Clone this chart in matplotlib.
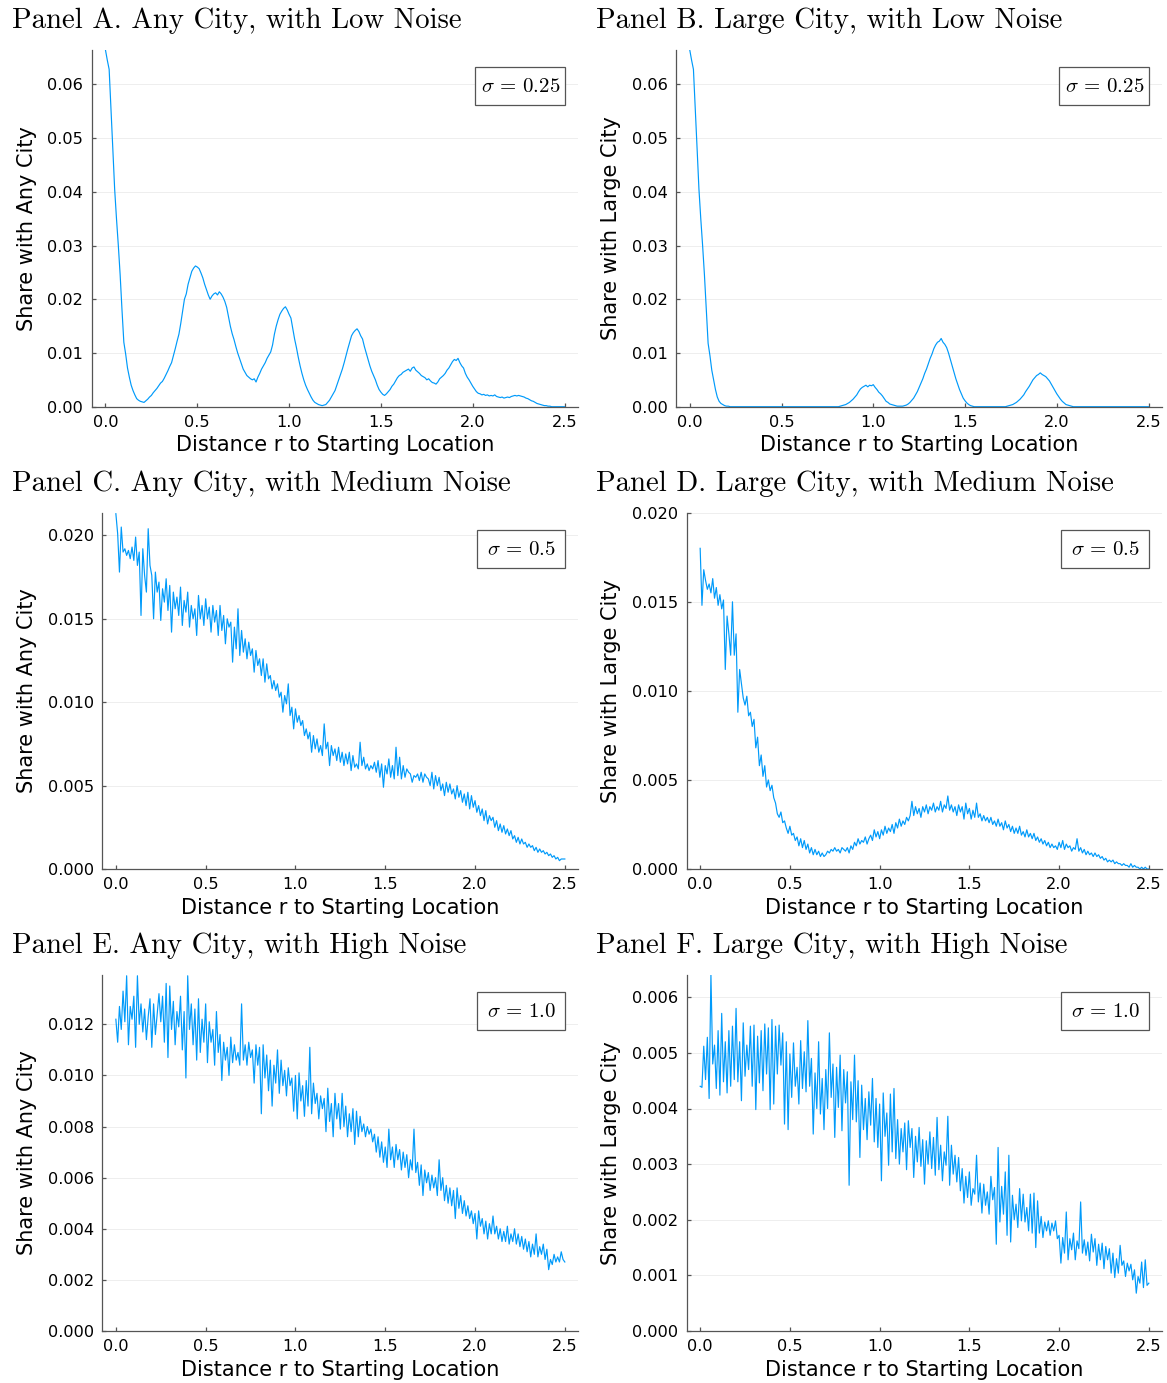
import matplotlib
matplotlib.use("Agg")
import matplotlib.pyplot as plt
import numpy as np
from matplotlib.patches import Rectangle

plt.rcParams['mathtext.fontset'] = 'cm'
plt.rcParams['font.family'] = 'DejaVu Sans'

# distance grid, r = 0.00 .. 2.50
r = np.linspace(0, 2.5, 251)

# Panel A: any city, sigma = 0.25   (units of 1e-4)
share_a = [
    664, 645, 628, 552, 480, 405, 350, 300, 245, 180,
    120, 98, 72, 55, 40, 30, 22, 15, 12, 10,
    9, 8, 11, 14, 18, 21, 26, 30, 34, 39,
    44, 47, 53, 60, 67, 75, 82, 95, 108, 122,
    135, 155, 178, 200, 210, 228, 240, 252, 258, 262,
    260, 257, 249, 240, 228, 218, 208, 200, 206, 210,
    212, 208, 214, 210, 204, 196, 185, 168, 150, 136,
    125, 112, 100, 90, 80, 70, 64, 58, 55, 52,
    50, 52, 46, 55, 62, 70, 76, 82, 90, 96,
    102, 115, 135, 150, 162, 172, 178, 183, 186, 180,
    172, 165, 145, 126, 110, 92, 76, 62, 50, 40,
    32, 25, 18, 12, 8, 6, 4, 3, 2, 3,
    4, 8, 12, 18, 24, 30, 40, 50, 60, 70,
    82, 95, 108, 120, 132, 138, 142, 145, 140, 132,
    126, 112, 100, 88, 76, 66, 58, 50, 40, 32,
    27, 23, 21, 24, 28, 32, 38, 42, 48, 54,
    58, 60, 64, 66, 68, 70, 66, 72, 74, 68,
    65, 62, 58, 56, 54, 50, 52, 48, 45, 44,
    42, 46, 52, 55, 58, 62, 68, 72, 78, 84,
    88, 86, 90, 82, 76, 72, 62, 55, 50, 44,
    38, 33, 28, 25, 24, 22, 23, 21, 22, 20,
    21, 20, 22, 19, 18, 17, 18, 16, 17, 18,
    17, 19, 20, 21, 20, 21, 20, 19, 18, 16,
    15, 13, 11, 10, 8, 6, 5, 4, 3, 2,
    2, 1, 1, 0, 0, 0, 0, 0, 0, 0,
    0]

# Panel B: large city, sigma = 0.25   (units of 1e-4)
share_b = [
    664, 645, 628, 552, 480, 405, 350, 300, 245, 180,
    118, 95, 68, 50, 32, 18, 10, 6, 4, 2,
    1, 1, 0, 0, 0, 0, 0, 0, 0, 0,
    0, 0, 0, 0, 0, 0, 0, 0, 0, 0,
    0, 0, 0, 0, 0, 0, 0, 0, 0, 0,
    0, 0, 0, 0, 0, 0, 0, 0, 0, 0,
    0, 0, 0, 0, 0, 0, 0, 0, 0, 0,
    0, 0, 0, 0, 0, 0, 0, 0, 0, 0,
    0, 0, 1, 2, 3, 4, 6, 8, 11, 14,
    18, 22, 28, 33, 36, 38, 40, 37, 40, 39,
    41, 36, 32, 27, 24, 20, 15, 10, 8, 5,
    4, 3, 2, 1, 1, 1, 1, 2, 3, 5,
    8, 12, 16, 22, 28, 36, 44, 52, 62, 70,
    80, 90, 98, 108, 115, 120, 122, 127, 120, 116,
    110, 100, 88, 76, 64, 52, 42, 32, 24, 16,
    11, 7, 4, 2, 1, 0, 0, 0, 0, 0,
    0, 0, 0, 0, 0, 0, 0, 0, 0, 0,
    0, 0, 0, 1, 2, 3, 4, 6, 8, 11,
    14, 18, 22, 28, 33, 38, 44, 50, 54, 58,
    60, 63, 60, 58, 56, 52, 48, 42, 36, 30,
    24, 19, 14, 10, 7, 4, 3, 2, 1, 0,
    0, 0, 0, 0, 0, 0, 0, 0, 0, 0,
    0, 0, 0, 0, 0, 0, 0, 0, 0, 0,
    0, 0, 0, 0, 0, 0, 0, 0, 0, 0,
    0, 0, 0, 0, 0, 0, 0, 0, 0, 0,
    0]

# Panel C: any city, sigma = 0.5   (units of 1e-4)
share_c = [
    213, 201, 178, 205, 190, 192, 188, 191, 186, 193,
    185, 199, 182, 190, 152, 192, 176, 166, 204, 182,
    176, 150, 178, 166, 172, 149, 168, 160, 174, 155,
    170, 142, 166, 156, 163, 152, 169, 146, 161, 154,
    166, 145, 158, 150, 156, 140, 164, 150, 158, 146,
    162, 150, 157, 142, 158, 148, 155, 140, 158, 143,
    152, 135, 150, 145, 148, 124, 145, 132, 156, 128,
    143, 130, 138, 126, 136, 128, 132, 118, 131, 122,
    126, 116, 126, 112, 123, 114, 116, 108, 113, 107,
    111, 103, 106, 94, 104, 99, 111, 92, 97, 84,
    96, 88, 92, 86, 89, 80, 84, 78, 82, 70,
    80, 72, 78, 70, 74, 68, 87, 72, 76, 62,
    74, 68, 72, 65, 73, 64, 70, 62, 69, 63,
    70, 59, 68, 61, 63, 60, 76, 62, 67, 60,
    63, 59, 62, 60, 64, 58, 65, 55, 63, 49,
    62, 57, 66, 55, 62, 54, 73, 56, 67, 54,
    62, 55, 60, 58, 57, 52, 56, 55, 57, 53,
    58, 52, 57, 55, 54, 50, 58, 48, 56, 50,
    55, 47, 51, 44, 52, 46, 51, 45, 48, 42,
    50, 43, 47, 40, 45, 38, 46, 36, 44, 37,
    41, 34, 38, 32, 36, 29, 35, 27, 32, 29,
    31, 25, 29, 23, 27, 22, 26, 21, 24, 20,
    23, 18, 20, 16, 19, 15, 18, 15, 16, 13,
    15, 13, 14, 11, 13, 10, 12, 10, 11, 9,
    10, 8, 9, 7, 8, 6, 7, 5, 6, 6,
    6]

# Panel D: large city, sigma = 0.5   (units of 1e-4)
share_d = [
    180, 148, 168, 162, 157, 160, 155, 163, 152, 158,
    148, 154, 146, 151, 112, 142, 132, 120, 150, 120,
    132, 88, 112, 104, 96, 92, 97, 86, 88, 80,
    84, 68, 74, 58, 64, 52, 58, 46, 50, 44,
    47, 40, 37, 31, 29, 32, 26, 27, 23, 20,
    24, 19, 20, 16, 18, 13, 17, 12, 16, 11,
    14, 9, 12, 8, 11, 8, 10, 7, 9, 7,
    8, 10, 9, 11, 10, 12, 10, 11, 9, 12,
    11, 10, 12, 9, 13, 11, 15, 13, 17, 14,
    16, 15, 18, 14, 17, 19, 16, 22, 18, 21,
    17, 22, 19, 24, 20, 23, 21, 25, 20, 26,
    23, 28, 24, 27, 25, 29, 27, 30, 38, 30,
    35, 31, 34, 29, 35, 32, 36, 31, 35, 33,
    37, 32, 35, 33, 38, 32, 36, 34, 41, 33,
    36, 32, 35, 30, 36, 32, 35, 28, 37, 31,
    34, 28, 33, 29, 37, 29, 31, 27, 30, 27,
    29, 26, 29, 25, 27, 24, 28, 24, 26, 22,
    27, 23, 25, 21, 24, 20, 23, 20, 24, 19,
    21, 18, 22, 18, 20, 17, 20, 16, 18, 15,
    17, 14, 16, 13, 15, 12, 14, 12, 13, 11,
    15, 12, 16, 11, 14, 12, 13, 10, 12, 11,
    17, 10, 12, 9, 11, 8, 10, 8, 9, 7,
    9, 7, 8, 6, 7, 5, 6, 4, 5, 4,
    5, 3, 4, 3, 3, 2, 3, 2, 2, 1,
    3, 1, 2, 1, 1, 0, 1, 0, 1, 0,
    0]

# Panel E: any city, sigma = 1.0   (units of 1e-4)
share_e = [
    122, 113, 127, 118, 133, 121, 139, 112, 127, 122,
    131, 111, 139, 120, 128, 117, 126, 114, 123, 130,
    111, 128, 116, 124, 132, 121, 131, 113, 136, 107,
    135, 118, 129, 112, 125, 119, 131, 110, 125, 99,
    139, 118, 128, 112, 126, 106, 130, 109, 122, 113,
    128, 105, 121, 113, 118, 104, 125, 109, 116, 98,
    113, 106, 111, 100, 115, 105, 112, 106, 109, 104,
    128, 106, 112, 104, 113, 107, 110, 97, 112, 104,
    111, 85, 112, 99, 108, 94, 106, 88, 104, 97,
    110, 93, 106, 96, 102, 92, 103, 96, 99, 86,
    100, 83, 101, 90, 96, 84, 98, 88, 111, 85,
    97, 89, 93, 83, 92, 87, 91, 78, 95, 82,
    89, 76, 93, 83, 89, 79, 93, 80, 88, 76,
    85, 78, 87, 73, 86, 76, 84, 78, 81, 76,
    80, 77, 79, 74, 77, 70, 76, 68, 74, 66,
    72, 64, 79, 67, 72, 64, 73, 67, 71, 63,
    70, 64, 69, 60, 67, 63, 79, 62, 66, 57,
    65, 53, 63, 58, 62, 55, 61, 56, 60, 53,
    67, 55, 60, 51, 57, 50, 56, 49, 55, 44,
    56, 48, 53, 46, 51, 45, 49, 44, 47, 42,
    46, 36, 47, 41, 44, 38, 43, 36, 42, 38,
    45, 38, 41, 36, 40, 35, 39, 35, 41, 34,
    38, 35, 40, 34, 38, 33, 37, 32, 36, 31,
    35, 29, 34, 30, 38, 29, 33, 30, 34, 28,
    32, 24, 28, 26, 30, 27, 29, 27, 31, 28,
    27]

# Panel F: large city, sigma = 1.0   (units of 1e-5)
share_f = [
    440, 438, 512, 452, 528, 418, 640, 480, 514, 436,
    540, 424, 571, 448, 520, 428, 540, 440, 548, 452,
    580, 448, 520, 414, 554, 458, 514, 470, 548, 440,
    550, 398, 530, 446, 540, 432, 552, 462, 545, 398,
    560, 408, 548, 462, 550, 478, 536, 372, 520, 362,
    498, 420, 518, 440, 474, 408, 522, 436, 502, 430,
    558, 440, 490, 354, 464, 400, 520, 390, 454, 362,
    470, 400, 536, 420, 480, 348, 474, 402, 496, 360,
    470, 410, 466, 262, 448, 380, 496, 376, 450, 312,
    442, 362, 418, 344, 430, 370, 454, 340, 418, 330,
    408, 270, 428, 350, 392, 298, 426, 322, 436, 310,
    380, 300, 364, 322, 374, 290, 378, 330, 364, 276,
    350, 304, 366, 296, 344, 264, 342, 300, 358, 292,
    348, 280, 384, 290, 334, 270, 322, 298, 386, 262,
    334, 282, 316, 268, 312, 252, 292, 230, 278, 240,
    286, 226, 256, 246, 316, 232, 266, 212, 264, 226,
    250, 210, 278, 236, 258, 156, 330, 196, 260, 210,
    286, 172, 316, 160, 244, 200, 228, 186, 256, 198,
    246, 196, 222, 180, 246, 176, 248, 150, 234, 176,
    206, 168, 196, 180, 198, 172, 194, 180, 198, 166,
    172, 122, 168, 140, 214, 128, 166, 146, 176, 128,
    162, 148, 232, 140, 164, 136, 160, 126, 174, 142,
    166, 118, 156, 128, 158, 112, 152, 128, 148, 104,
    140, 96, 130, 104, 154, 118, 126, 98, 122, 108,
    120, 92, 110, 68, 98, 86, 124, 78, 128, 82,
    86]

titles = ["Panel A. Any City, with Low Noise", "Panel B. Large City, with Low Noise",
          "Panel C. Any City, with Medium Noise", "Panel D. Large City, with Medium Noise",
          "Panel E. Any City, with High Noise", "Panel F. Large City, with High Noise"]
ylabels = ["Share with Any City", "Share with Large City"] * 3
sigmas = [r"$\sigma\,=\,0.25$", r"$\sigma\,=\,0.25$", r"$\sigma\,=\,0.5$", r"$\sigma\,=\,0.5$",
          r"$\sigma\,=\,1.0$", r"$\sigma\,=\,1.0$"]
series = [np.array(share_a) * 1e-4, np.array(share_b) * 1e-4,
          np.array(share_c) * 1e-4, np.array(share_d) * 1e-4,
          np.array(share_e) * 1e-4, np.array(share_f) * 1e-5]
ytop = [0.0664, 0.0664, 0.02136, 0.0200, 0.01393, 0.0064]
ystep = [0.01, 0.01, 0.005, 0.005, 0.002, 0.001]
yfmt = ["%.2f", "%.2f", "%.3f", "%.3f", "%.3f", "%.3f"]

W, H = 1167, 1383
fig = plt.figure(figsize=(W / 100, H / 100), dpi=100)

# pixel boxes: left, top, right, bottom
boxes = [(91.7, 50, 578.3, 406.7), (676, 50, 1162.3, 406.7),
         (102.4, 512.7, 578.3, 869), (686.7, 512.7, 1162.3, 869),
         (102.4, 975, 578.3, 1331), (686.7, 975, 1162.3, 1331)]

blue = "#009AFA"
axcol = "#555555"

for i in range(6):
    l, t, rr, b = boxes[i]
    w, h = rr - l, b - t
    ax = fig.add_axes([l / W, 1 - b / H, w / W, h / H])
    ax.plot(r, series[i], color=blue, lw=0.85)
    ax.set_xlim(-0.075, 2.575)
    ax.set_ylim(0, ytop[i])
    ax.set_xticks([0, 0.5, 1.0, 1.5, 2.0, 2.5])
    ax.set_xticklabels(["0.0", "0.5", "1.0", "1.5", "2.0", "2.5"])
    yt = np.arange(0, ytop[i] + 1e-9, ystep[i])
    ax.set_yticks(yt)
    ax.set_yticklabels([yfmt[i] % v for v in yt])
    ax.grid(axis='y', color='black', alpha=0.08, lw=0.6)
    ax.set_axisbelow(True)
    for s in ['top', 'right']:
        ax.spines[s].set_visible(False)
    for s in ['left', 'bottom']:
        ax.spines[s].set_color(axcol)
        ax.spines[s].set_linewidth(0.9)
    ax.tick_params(direction='in', length=3, width=0.9, color=axcol,
                   labelsize=11.6, pad=6, labelcolor='black')

    ax.set_xlabel("Distance r to Starting Location", fontsize=15)
    ax.xaxis.label.set_va('center')
    ax.xaxis.set_label_coords(0.5, -38.5 / h)
    ax.set_ylabel(ylabels[i], fontsize=15)
    ax.yaxis.label.set_va('center')
    ylx = 27 if i % 2 == 0 else 611
    ax.yaxis.set_label_coords((ylx - l) / w, 0.5)

    # sigma box in upper right
    bw = 90 if i < 2 else 88
    bh = 38
    x0 = (rr - 13 - bw - l) / w
    y0 = 1 - (17 + bh) / h
    ax.add_patch(Rectangle((x0, y0), bw / w, bh / h, transform=ax.transAxes,
                           facecolor='white', edgecolor=axcol, lw=0.9, zorder=5))
    ax.text(x0 + bw / w / 2, y0 + bh / h / 2, sigmas[i], transform=ax.transAxes,
            ha='center', va='center', fontsize=15, zorder=6)

    tx = 12 if i % 2 == 0 else 596
    fig.text(tx / W, 1 - (t - 29) / H, titles[i], family='cmr10', fontsize=20.7,
             ha='left', va='center')

fig.savefig("out.png", dpi=100)
